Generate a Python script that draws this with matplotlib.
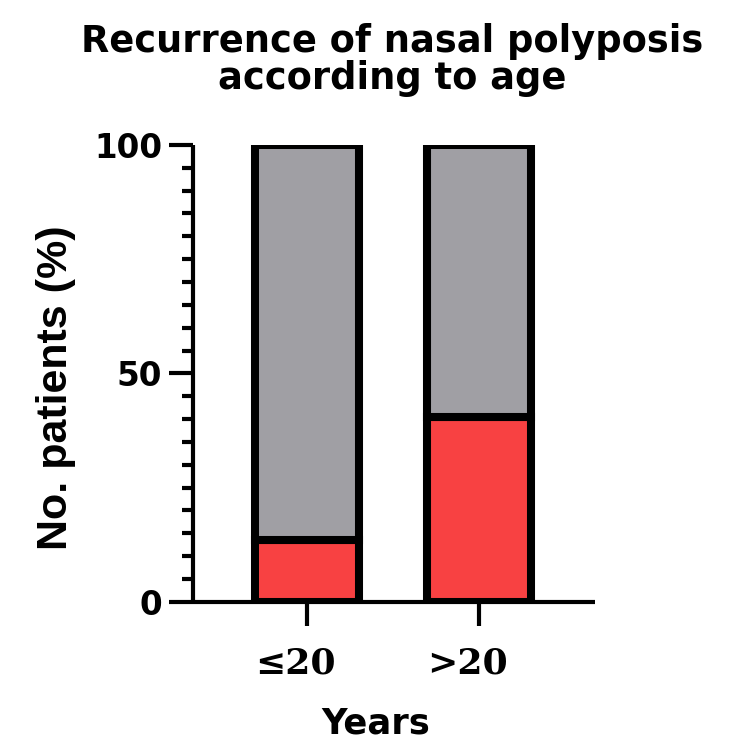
import matplotlib
matplotlib.use("Agg")
import matplotlib.pyplot as plt
from matplotlib.ticker import MultipleLocator
from matplotlib.transforms import ScaledTranslation

categories = ["≤20", ">20"]
recurrence = [13.5, 40.5]
no_recurrence = [86.5, 59.5]

red = "#F84142"
gray = "#A09FA4"

fig = plt.figure(figsize=(7.5, 7.5), dpi=100)
ax = fig.add_axes([0.2573, 0.1977, 0.536, 0.609])

x = list(range(len(categories)))
ax.bar(x, recurrence, width=0.6, color=red, edgecolor="black", linewidth=5.8, zorder=2)
ax.bar(x, no_recurrence, bottom=recurrence, width=0.6, color=gray, edgecolor="black", linewidth=5.8, zorder=2)

ax.set_xlim(-0.663, 1.674)
ax.set_ylim(0, 100)
ax.set_xticks(x)
ax.set_xticklabels(categories, family=["DejaVu Serif"], fontsize=26, fontweight="bold")
ax.yaxis.set_major_locator(MultipleLocator(50))
ax.yaxis.set_minor_locator(MultipleLocator(5))
for lab in ax.get_yticklabels():
    lab.set_family("DejaVu Sans")
    lab.set_fontsize(23.5)
    lab.set_fontweight("bold")

for s in ["top", "right"]:
    ax.spines[s].set_visible(False)
for s in ["left", "bottom"]:
    ax.spines[s].set_linewidth(3)
    ax.spines[s].set_capstyle("butt")

ax.tick_params(axis="y", which="major", length=17, width=3, pad=5)
ax.tick_params(axis="y", which="minor", length=8, width=3)
ax.tick_params(axis="x", which="major", length=17, width=3, pad=15)

shift = ScaledTranslation(-12 / 100, 0, fig.dpi_scale_trans)
for lab in ax.get_xticklabels():
    lab.set_transform(lab.get_transform() + shift)

ax.set_ylabel("No. patients (%)", family="Liberation Sans", fontsize=31, fontweight="bold")
ax.yaxis.set_label_coords(-0.29, 0.469)
ax.set_xlabel("Years", family="DejaVu Sans", fontsize=25.5, fontweight="bold")
ax.xaxis.set_label_coords(0.455, -0.23)

fig.text(0.523, 0.92, "Recurrence of nasal polyposis\naccording to age", ha="center", va="center",
         family="DejaVu Sans", fontsize=26.5, fontweight="bold", linespacing=1.03)

fig.savefig("out.png", dpi=100)
